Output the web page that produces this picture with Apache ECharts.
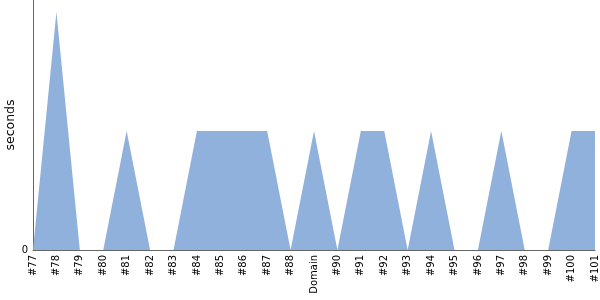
<!DOCTYPE html>
<html><head><meta charset="utf-8">
<script src="https://cdn.jsdelivr.net/npm/echarts@6/dist/echarts.min.js"></script>
<style>html,body{margin:0;padding:0;background:#fff}#c{width:600px;height:300px}</style>
</head><body><div id="c"></div>
<script>
const categories = ['#77','#78','#79','#80','#81','#82','#83','#84','#85','#86','#87','#88','#89','#90','#91','#92','#93','#94','#95','#96','#97','#98','#99','#100','#101'];
const seconds = [0,2,0,0,1,0,0,1,1,1,1,0,1,0,1,1,0,1,0,0,1,0,0,1,1];
const yTicks = [0];
const xName = 'Domain';
const yName = 'seconds';
const hiddenIndex = categories.indexOf('#89');

const chart = echarts.init(document.getElementById('c'), null, {renderer:'canvas'});
chart.setOption({
  animation:false,
  grid:{left:33,right:5,top:0,bottom:50,containLabel:false,outerBoundsMode:'none'},
  xAxis:{
    type:'category', data:categories, boundaryGap:false,
    name:xName, nameLocation:'middle', nameRotate:90, nameGap:5, nameMoveOverlap:false,
    nameTextStyle:{fontFamily:'DejaVu Sans',fontSize:10,color:'#000',align:'right',verticalAlign:'middle'},
    axisLine:{lineStyle:{color:'#666',width:1}},
    axisTick:{show:false},
    axisLabel:{rotate:90,fontFamily:'DejaVu Sans',fontSize:10,color:'#000',margin:5,
      interval:(i)=>i!==hiddenIndex},
    splitLine:{show:false}
  },
  yAxis:{
    type:'value', min:0, max:2.1,
    name:yName, nameLocation:'middle', nameRotate:90, nameGap:16, nameMoveOverlap:false,
    nameTextStyle:{fontFamily:'DejaVu Sans',fontSize:12.5,color:'#000'},
    axisLine:{show:true,lineStyle:{color:'#666',width:1}},
    axisTick:{show:false},
    splitLine:{show:false},
    axisLabel:{fontFamily:'DejaVu Sans',fontSize:10,color:'#000',margin:5,
      customValues:yTicks},
  },
  series:[{
    type:'line', data:seconds, symbol:'none',
    lineStyle:{width:0,color:'#8fb1db'},
    areaStyle:{color:'#8fb1db',opacity:1}
  }]
});
</script></body></html>
